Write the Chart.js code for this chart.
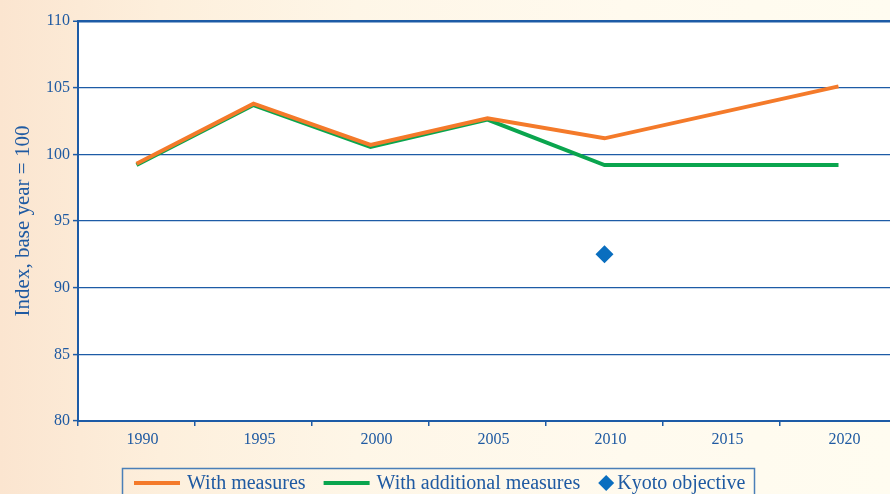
<!DOCTYPE html>
<html>
<head>
<meta charset="utf-8">
<script src="https://cdn.jsdelivr.net/npm/chart.js@4/dist/chart.umd.min.js"></script>
<style>
  html, body { margin: 0; padding: 0; overflow: hidden; width: 890px; height: 494px; }
  body { background: linear-gradient(to right, #fbe5d0 0%, #fdefdc 18%, #fef6e7 40%, #fffaee 70%, #fffcf0 100%); }
  #wrap { width: 906px; height: 494px; }
  canvas { display: block; }
</style>
</head>
<body>
<div id="wrap"><canvas id="chart" width="906" height="494" style="width:906px;height:494px"></canvas></div>
<script>
// Emission projections, index with base year = 100
const years = ['1990', '1995', '2000', '2005', '2010', '2015', '2020'];
const withMeasures = [99.3, 103.8, 100.7, 102.7, 101.2, null, 105.1];
const withAdditionalMeasures = [99.2, 103.7, 100.55, 102.6, 99.2, null, 99.2];
const kyotoObjective = [null, null, null, null, 92.5, null, null];
const yTicks = [80, 85, 90, 95, 100, 105, 110];

const BLUE = '#1d5ba6';
const TEXT = '#1f5aa2';
const SERIF = '"Liberation Serif", "DejaVu Serif", serif';

// White plotting area on the tinted page
const plotBackground = {
  id: 'plotBackground',
  beforeDraw(chart) {
    const { ctx, chartArea: a } = chart;
    ctx.save();
    ctx.fillStyle = '#ffffff';
    ctx.fillRect(a.left, a.top, a.right - a.left, a.bottom - a.top);
    ctx.restore();
  }
};

// Boxed legend along the bottom edge
const boxedLegend = {
  id: 'boxedLegend',
  afterDraw(chart) {
    const { ctx } = chart;
    const boxLeft = 122, boxTop = 468, boxRight = 754;
    const midY = 483;
    ctx.save();
    ctx.strokeStyle = '#4a7fb8';
    ctx.lineWidth = 1.5;
    ctx.strokeRect(boxLeft + 0.5, boxTop + 0.5, boxRight - boxLeft, 60);
    ctx.font = '20px ' + SERIF;
    ctx.textBaseline = 'middle';
    ctx.fillStyle = TEXT;
    let x = 134;
    chart.data.datasets.forEach(ds => {
      if (ds.showLine === false) {
        const r = 8;
        const cx = x + r;
        ctx.beginPath();
        ctx.moveTo(cx, midY - r);
        ctx.lineTo(cx + r, midY);
        ctx.lineTo(cx, midY + r);
        ctx.lineTo(cx - r, midY);
        ctx.closePath();
        ctx.fillStyle = ds.backgroundColor;
        ctx.fill();
        x += 2 * r + 3;
      } else {
        ctx.beginPath();
        ctx.strokeStyle = ds.borderColor;
        ctx.lineWidth = 4;
        ctx.moveTo(x, midY);
        ctx.lineTo(x + 46, midY);
        ctx.stroke();
        x += 46 + 7;
      }
      ctx.fillStyle = TEXT;
      ctx.fillText(ds.label, x, midY + 1);
      x += ctx.measureText(ds.label).width + 18;
    });
    ctx.restore();
  }
};

new Chart(document.getElementById('chart'), {
  type: 'line',
  data: {
    labels: years,
    datasets: [
      {
        label: 'With measures',
        data: withMeasures,
        borderColor: '#f47a2a',
        backgroundColor: '#f47a2a',
        borderWidth: 4,
        pointRadius: 0,
        tension: 0,
        spanGaps: true
      },
      {
        label: 'With additional measures',
        data: withAdditionalMeasures,
        borderColor: '#0aa54e',
        backgroundColor: '#0aa54e',
        borderWidth: 4,
        pointRadius: 0,
        tension: 0,
        spanGaps: true
      },
      {
        label: 'Kyoto objective',
        data: kyotoObjective,
        showLine: false,
        pointStyle: 'rectRot',
        pointRadius: 9,
        pointHoverRadius: 9,
        borderWidth: 0,
        backgroundColor: '#0a6ebf',
        borderColor: '#0a6ebf'
      }
    ]
  },
  options: {
    responsive: false,
    devicePixelRatio: 1,
    animation: false,
    layout: { padding: { top: 21, right: 8, bottom: 0, left: 0 } },
    plugins: {
      legend: { display: false },
      tooltip: { enabled: false }
    },
    scales: {
      x: {
        offset: true,
        grid: {
          offset: true,
          drawOnChartArea: false,
          drawTicks: true,
          tickLength: 5,
          color: BLUE,
          lineWidth: 1.5
        },
        border: { display: true, color: BLUE, width: 2 },
        ticks: {
          color: TEXT,
          font: { family: SERIF, size: 16 },
          padding: 4,
          labelOffset: 6,
          maxRotation: 0,
          autoSkip: false
        },
        afterFit(scale) { scale.height = 73; }
      },
      y: {
        min: 80,
        max: 110,
        afterBuildTicks(scale) { scale.ticks = yTicks.map(v => ({ value: v })); },
        grid: {
          color: BLUE,
          lineWidth: ctx => (ctx.tick && ctx.tick.value === 110 ? 2.5 : 1.2),
          tickLength: 5,
          tickColor: BLUE,
          tickWidth: 1.5
        },
        border: { display: true, color: BLUE, width: 2 },
        ticks: {
          color: TEXT,
          font: { family: SERIF, size: 16 },
          padding: 3
        },
        title: {
          display: true,
          text: 'Index, base year = 100',
          color: TEXT,
          font: { family: SERIF, size: 21 },
          padding: { top: 11, bottom: 0 }
        },
        afterFit(scale) { scale.width = 78; }
      }
    }
  },
  plugins: [plotBackground, boxedLegend]
});
</script>
</body>
</html>
